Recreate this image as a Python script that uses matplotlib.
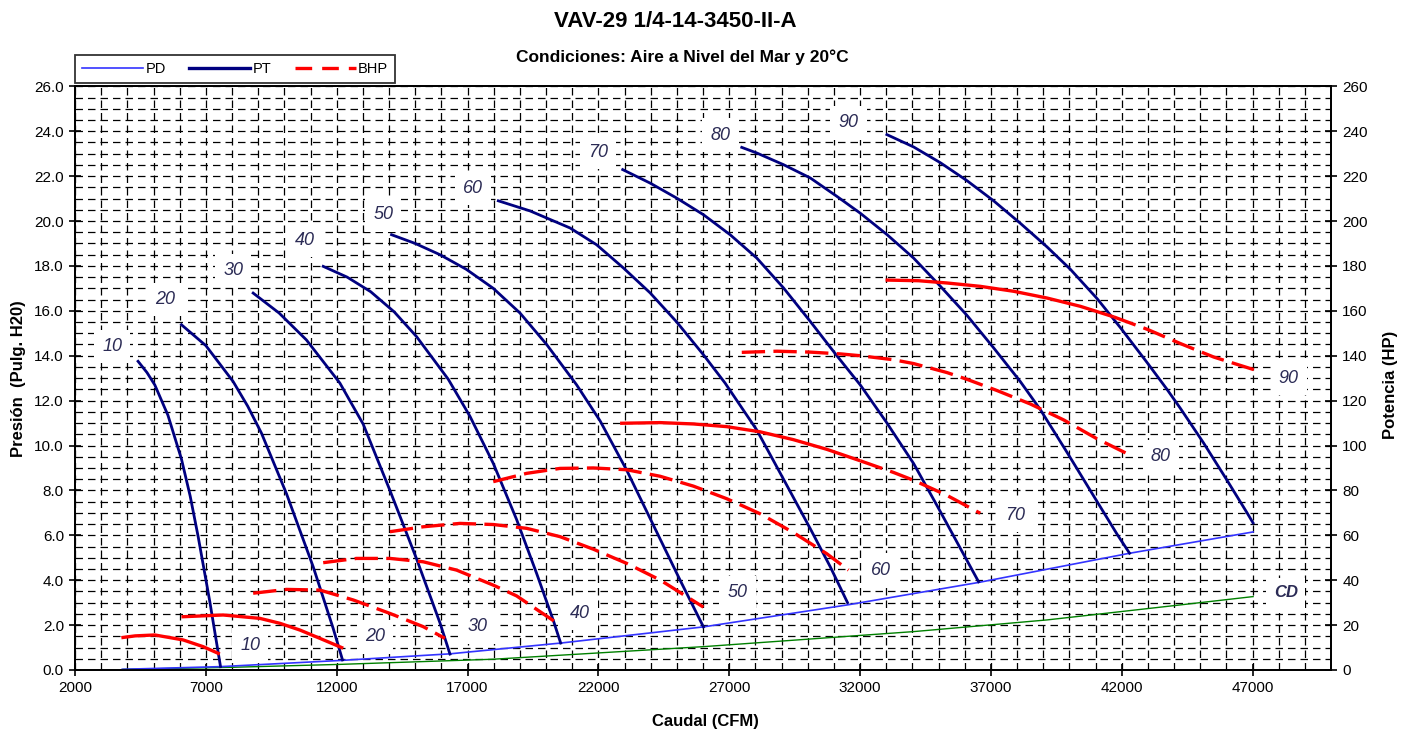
import numpy as np
import matplotlib
matplotlib.use("Agg")
import matplotlib.pyplot as plt
from matplotlib.lines import Line2D
from matplotlib.ticker import MultipleLocator, FormatStrFormatter

plt.rcParams['font.family'] = ['Liberation Sans', 'DejaVu Sans']

# ---- data (caudal in CFM, presion in pulg. H2O, potencia in HP)
pt10_q = [4409, 4750, 5048, 5550, 6066, 6400, 6704, 7150, 7560]
pt10_p = [13.75, 13.25, 12.7, 11.35, 9.4, 7.75, 5.95, 3.05, 0.15]
pt20_q = [6066, 7000, 8042, 8600, 9125, 10082, 11101, 11866, 12222]
pt20_p = [15.38, 14.45, 12.85, 11.75, 10.55, 7.85, 4.6, 1.85, 0.45]
pt30_q = [8807, 9800, 10845, 12122, 13013, 14034, 15052, 15946, 16329]
pt30_p = [16.79, 15.9, 14.7, 12.78, 10.95, 8.0, 4.95, 2.1, 0.71]
pt40_q = [11484, 12400, 13300, 14200, 15052, 16264, 17093, 17985, 18876, 19641, 20280, 20560]
pt40_p = [17.98, 17.5, 16.85, 15.95, 14.85, 12.95, 11.3, 9.2, 6.7, 4.3, 2.2, 1.2]
pt50_q = [14096, 15000, 15946, 16950, 17985, 19006, 20023, 21170, 22065, 23082, 24103, 25124, 25759, 26016]
pt50_p = [19.39, 19.0, 18.5, 17.85, 17.0, 15.9, 14.5, 12.7, 11.1, 8.9, 6.45, 4.0, 2.52, 1.92]
pt60_q = [18176, 19388, 20918, 21935, 22956, 23977, 24995, 26016, 26843, 28054, 29075, 30096, 30861, 31522]
pt60_p = [20.90, 20.45, 19.69, 18.94, 17.91, 16.8, 15.5, 14.04, 12.78, 10.69, 8.5, 6.3, 4.6, 3.0]
pt70_q = [22930, 23977, 24995, 26016, 27035, 28054, 29075, 30096, 31113, 32007, 33000, 34046, 35001, 35702, 36531]
pt70_p = [22.29, 21.69, 21.02, 20.28, 19.39, 18.35, 17.02, 15.53, 14.0, 12.7, 11.05, 9.2, 7.2, 5.7, 3.93]
pt80_q = [27480, 28054, 29075, 30096, 31113, 32007, 33025, 34046, 35065, 36084, 37105, 38124, 38889, 39908, 40929, 41822, 42300]
pt80_p = [23.28, 23.03, 22.51, 21.92, 21.1, 20.35, 19.4, 18.35, 17.1, 15.8, 14.35, 12.85, 11.6, 9.7, 7.75, 6.05, 5.2]
pt90_q = [33025, 34046, 35065, 36084, 37105, 38124, 39143, 40038, 41055, 41950, 42967, 43732, 44245, 45136, 46026, 46791, 47021]
pt90_p = [23.85, 23.3, 22.6, 21.8, 20.9, 19.9, 18.85, 17.85, 16.55, 15.25, 13.7, 12.5, 11.65, 10.1, 8.45, 7.0, 6.55]

pd_q = [3800, 7560, 12222, 16329, 20560, 26016, 31522, 36531, 42300, 47021]
pd_p = [0.03, 0.15, 0.43, 0.72, 1.2, 1.92, 2.9, 3.9, 5.2, 6.15]

cd_q = [3836, 8000, 12122, 17985, 26016, 34046, 39143, 44245, 47021]
cd_p = [0.03, 0.12, 0.25, 0.48, 1.04, 1.71, 2.23, 2.90, 3.27]

bhp10_q = [3771, 4300, 5048, 6130, 6895, 7533]
bhp10_hp = [14.4, 15.2, 15.6, 13.4, 10.4, 7.1]
bhp20_q = [6066, 7660, 9063, 9828, 10593, 11357, 12249]
bhp20_hp = [23.7, 24.5, 23.0, 20.8, 17.8, 14.1, 9.7]
bhp30_q = [8807, 10082, 11357, 12631, 14034, 15308, 16137]
bhp30_hp = [34.2, 35.9, 35.6, 31.2, 25.2, 19.3, 14.1]
bhp40_q = [11484, 12757, 14034, 15308, 16581, 17985, 18876, 19641, 20344]
bhp40_hp = [47.8, 49.7, 49.7, 48.2, 44.5, 37.8, 33.0, 27.0, 21.5]
bhp50_q = [14034, 15308, 16711, 17985, 19261, 20535, 21809, 23082, 24359, 26016]
bhp50_hp = [61.6, 63.8, 65.3, 64.8, 63.1, 59.4, 53.8, 47.5, 40.1, 28.0]
bhp60_q = [17985, 19261, 20535, 21809, 23082, 24359, 25633, 26906, 28180, 29455, 30728, 31560]
bhp60_hp = [83.9, 87.6, 89.8, 90.0, 89.2, 86.3, 81.9, 76.3, 69.6, 61.2, 51.8, 44.5]
bhp70_q = [22830, 24359, 25633, 26906, 28180, 29455, 30728, 32007, 33280, 34046, 35320, 36596]
bhp70_hp = [109.9, 110.2, 109.6, 108.4, 106.1, 102.6, 98.3, 93.2, 88.0, 84.5, 77.8, 69.8]
bhp80_q = [27480, 28818, 30096, 31243, 32007, 33280, 34046, 35320, 36084, 37232, 38507, 39782, 41055, 42394]
bhp80_hp = [141.5, 142.0, 141.6, 140.8, 140.0, 138.2, 136.5, 132.5, 129.5, 124.5, 118.5, 111.4, 103.0, 95.3]
bhp90_q = [32975, 34237, 35320, 36596, 37870, 39143, 40420, 41694, 42967, 44245, 45518, 47048]
bhp90_hp = [173.7, 173.4, 172.4, 170.9, 168.7, 165.7, 162.0, 157.3, 151.8, 145.4, 139.4, 133.8]

curve_names = ["10", "20", "30", "40", "50", "60", "70", "80", "90"]

pt_curves = [(pt10_q, pt10_p), (pt20_q, pt20_p), (pt30_q, pt30_p), (pt40_q, pt40_p),
             (pt50_q, pt50_p), (pt60_q, pt60_p), (pt70_q, pt70_p), (pt80_q, pt80_p),
             (pt90_q, pt90_p)]
bhp_curves = [(bhp10_q, bhp10_hp), (bhp20_q, bhp20_hp), (bhp30_q, bhp30_hp),
              (bhp40_q, bhp40_hp), (bhp50_q, bhp50_hp), (bhp60_q, bhp60_hp),
              (bhp70_q, bhp70_hp), (bhp80_q, bhp80_hp), (bhp90_q, bhp90_hp)]

# label placement (text positions, data coords)
pt_label_xy = [(3415, 14.4), (5450, 16.5), (8042, 17.8), (10795, 19.15), (13778, 20.27),
               (17220, 21.47), (22000, 23.07), (26665, 23.83), (31560, 24.37)]
bhp_label_xy = [(8692, 11.1), (13472, 14.7), (17400, 19.2), (21312, 25.0), (27316, 34.3),
                (32784, 44.5), (37946, 69.0), (43491, 94.9), (48386, 130.0)]
# how many points of each BHP curve are drawn solid before the dashes start
bhp_solid_pts = [6, 7, 1, 1, 1, 1, 8, 1, 8]

NAVY = '#000080'
LABEL_COLOR = '#2b2b55'
BHP_DASH = (0, (7, 2.5))


def draw_bhp(ax, q, hp, nsolid):
    q = np.asarray(q)
    hp = np.asarray(hp)
    if nsolid >= len(q):
        ax.plot(q, hp, color='red', lw=2.4, solid_capstyle='butt')
        return
    if nsolid > 1:
        ax.plot(q[:nsolid], hp[:nsolid], color='red', lw=2.4, solid_capstyle='butt')
    ax.plot(q[nsolid - 1:], hp[nsolid - 1:], color='red', lw=2.4, linestyle=BHP_DASH,
            dash_capstyle='butt')


fig = plt.figure(figsize=(14.13, 7.34), dpi=100)
ax = fig.add_axes([0.0531, 0.0872, 0.8889, 0.7952])
ax2 = ax.twinx()

ax.set_xlim(2000, 50000)
ax.set_ylim(0, 26)
ax.set_xticks(np.arange(2000, 47001, 5000))
ax.xaxis.set_minor_locator(MultipleLocator(1000))
ax.yaxis.set_major_locator(MultipleLocator(2))
ax.yaxis.set_minor_locator(MultipleLocator(0.5))
ax.yaxis.set_major_formatter(FormatStrFormatter('%.1f'))
ax.set_axisbelow(True)
ax.grid(which='both', color='black', linestyle=(0, (6, 4)), linewidth=0.9)
ax.tick_params(which='major', direction='inout', length=9, width=1.2, labelsize=11)
ax.tick_params(which='minor', length=0)

ax2.set_ylim(0, 260)
ax2.set_yticks(np.arange(0, 261, 20))
ax2.tick_params(which='major', direction='inout', length=9, width=1.2, labelsize=11)

for a in (ax, ax2):
    for s in a.spines.values():
        s.set_linewidth(1.3)

# system + dynamic pressure curves
ax.plot(cd_q, cd_p, color='#008000', lw=1.0, zorder=3)
ax.plot(pd_q, pd_p, color='#3333ff', lw=1.2, zorder=3)

for name, (q, p), (lx, ly) in zip(curve_names, pt_curves, pt_label_xy):
    ax.plot(q, p, color=NAVY, lw=2.0, zorder=3)
    ax.text(lx, ly, name, fontsize=13, style='italic', color=LABEL_COLOR,
            ha='center', va='center', zorder=4,
            bbox=dict(boxstyle='square,pad=0.45', fc='white', ec='none'))

for name, (q, hp), ns, (lx, ly) in zip(curve_names, bhp_curves, bhp_solid_pts, bhp_label_xy):
    draw_bhp(ax2, q, hp, ns)
    ax2.text(lx, ly, name, fontsize=13, style='italic', color=LABEL_COLOR,
             ha='center', va='center', zorder=4,
             bbox=dict(boxstyle='square,pad=0.45', fc='white', ec='none'))

ax.text(48271, 3.43, "CD", fontsize=12, style='italic', weight='bold', color=LABEL_COLOR,
        ha='center', va='center', zorder=4,
        bbox=dict(boxstyle='square,pad=0.45', fc='white', ec='none'))

fig.text(0.478, 0.971, "VAV-29 1/4-14-3450-II-A", fontsize=16, weight='bold',
         ha='center', va='center')
fig.text(0.483, 0.922, "Condiciones: Aire a Nivel del Mar y 20°C", fontsize=12.5,
         weight='bold', ha='center', va='center')
fig.text(0.499, 0.017, "Caudal (CFM)", fontsize=12, weight='bold', ha='center', va='center')
fig.text(0.013, 0.484, "Presión  (Pulg. H20)", fontsize=12, weight='bold',
         rotation=90, ha='center', va='center')
fig.text(0.984, 0.476, "Potencia (HP)", fontsize=12, weight='bold',
         rotation=90, ha='center', va='center')

handles = [Line2D([], [], color='#3333ff', lw=1.2),
           Line2D([], [], color=NAVY, lw=2.4),
           Line2D([], [], color='red', lw=2.4, linestyle=(0, (5, 3)))]
leg = fig.legend(handles, ["PD", "PT", "BHP"], loc='center', ncol=3,
                 bbox_to_anchor=(235 / 1413, 1 - 69 / 734), frameon=True, fancybox=False,
                 edgecolor='black', fontsize=10.5, handlelength=4.2, handletextpad=0.15,
                 columnspacing=1.6, borderpad=0.5)
leg.get_frame().set_linewidth(1.3)

fig.savefig("out.png", dpi=100)
